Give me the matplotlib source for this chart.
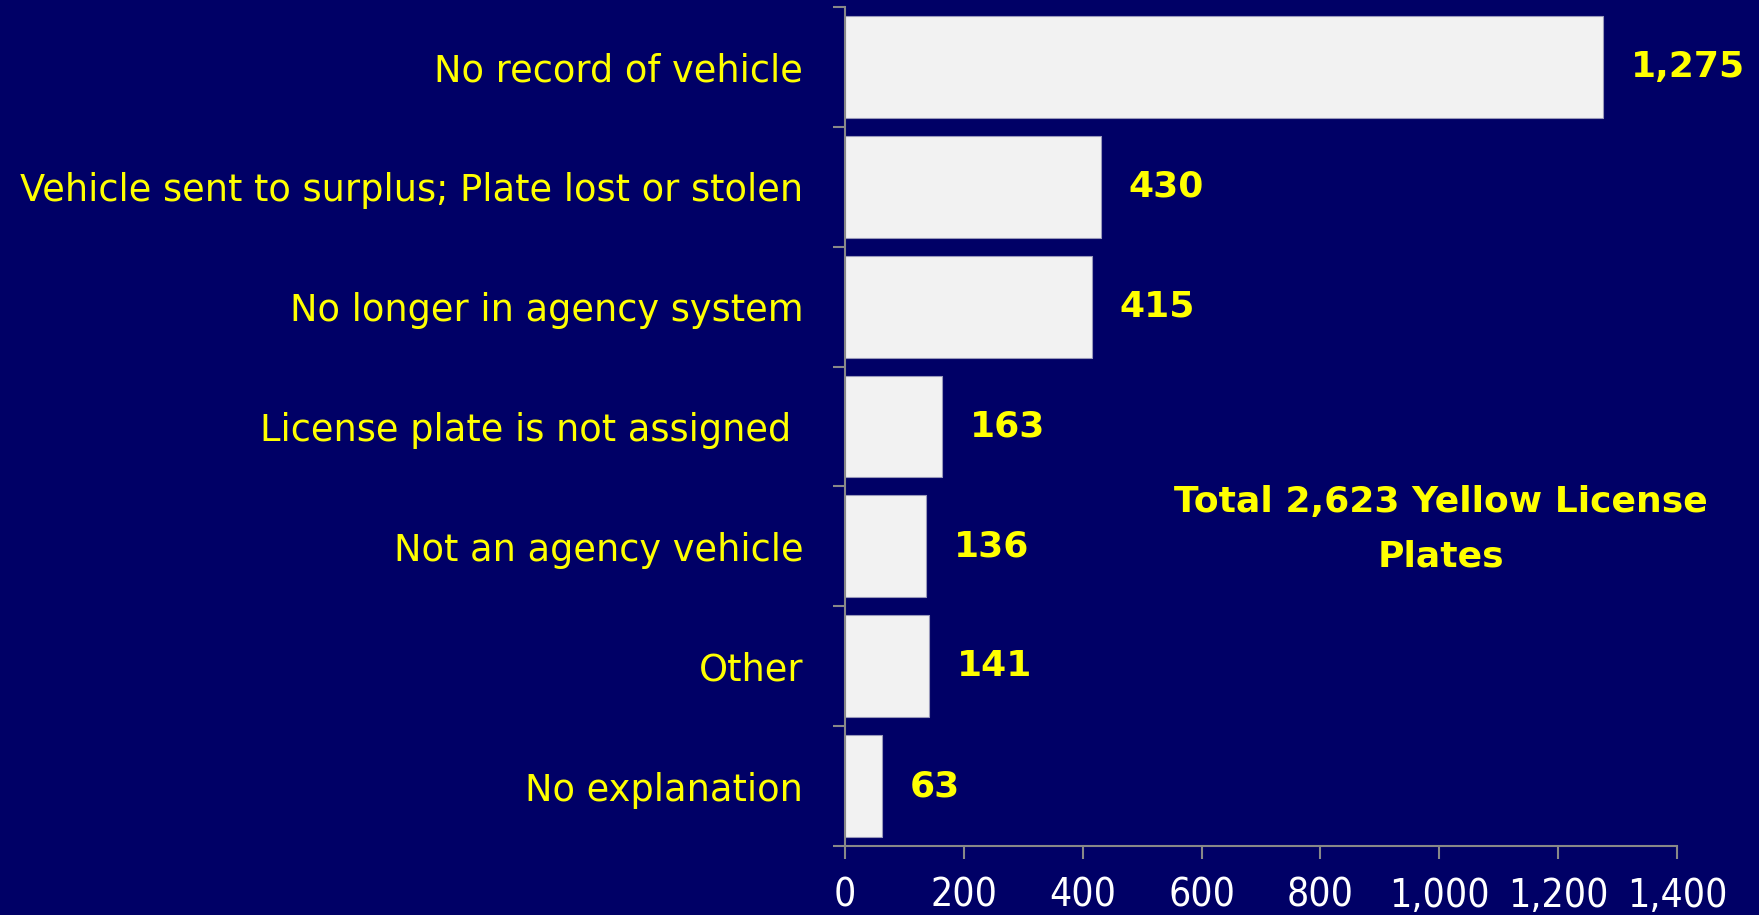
import matplotlib
matplotlib.use("Agg")
import matplotlib.pyplot as plt
import numpy as np

categories = [
    "No record of vehicle",
    "Vehicle sent to surplus; Plate lost or stolen",
    "No longer in agency system",
    "License plate is not assigned ",
    "Not an agency vehicle",
    "Other",
    "No explanation",
]
counts = [1275, 430, 415, 163, 136, 141, 63]
x_ticks = [0, 200, 400, 600, 800, 1000, 1200, 1400]
note = "Total 2,623 Yellow License\nPlates"

bg = "#000066"
bar_color = "#F2F2F2"
yellow = "#FFFF00"
grey = "#888888"

plt.rcParams["font.family"] = ["DejaVu Sans"]

fig = plt.figure(figsize=(17.59, 9.15), dpi=100, facecolor=bg)
ax = fig.add_axes([0.4804, 0.0754, 0.4730, 0.9169], facecolor=bg)

y = np.arange(len(categories))
ax.barh(y, counts, height=0.85, color=bar_color, edgecolor="#9999bb", linewidth=0.8)
ax.set_ylim(len(categories) - 0.5, -0.5)
ax.set_xlim(0, 1400)

for yi, v in zip(y, counts):
    ax.annotate(f"{v:,}", (v, yi), xytext=(20, 0), textcoords="offset points",
                ha="left", va="center", color=yellow, fontsize=26, fontweight="bold")

ax.text(0.716, 0.378, note, transform=ax.transAxes, ha="center", va="center",
        color=yellow, fontsize=26, fontweight="bold", linespacing=1.75)

# y axis: labels at bar centres, ticks at category boundaries
ax.set_yticks(y)
ax.set_yticklabels(categories, color=yellow, fontsize=26.5)
ax.tick_params(axis="y", which="major", length=0, pad=30)
ax.set_yticks(np.arange(-0.5, len(categories)), minor=True)
ax.tick_params(axis="y", which="minor", length=9, color=grey, width=1.5)

ax.set_xticks(x_ticks)
ax.set_xticklabels([f"{t:,}" for t in x_ticks], color="white", fontsize=28,
                   fontstretch="condensed")
ax.tick_params(axis="x", length=9, color=grey, width=1.5, pad=13)

for side in ["top", "right"]:
    ax.spines[side].set_visible(False)
for side in ["left", "bottom"]:
    ax.spines[side].set_color(grey)
    ax.spines[side].set_linewidth(1.5)

fig.savefig("out.png", dpi=100, facecolor=bg)
